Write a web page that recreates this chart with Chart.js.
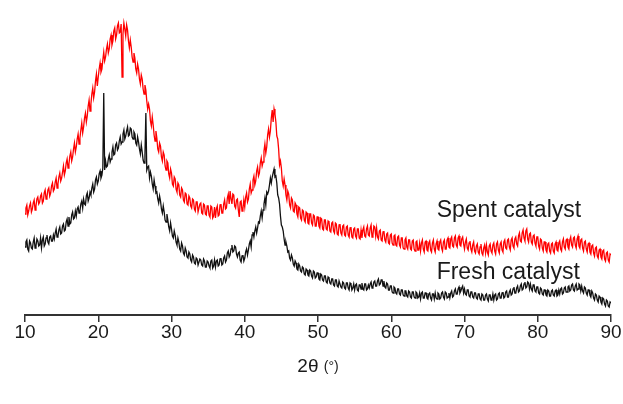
<!DOCTYPE html>
<html>
<head>
<meta charset="utf-8">
<script src="https://cdn.jsdelivr.net/npm/chart.js@4/dist/chart.umd.min.js"></script>
<style>
  html, body { margin: 0; padding: 0; background: #ffffff; }
  #wrap { width: 623px; height: 404px; }
</style>
</head>
<body>
<div id="wrap"><canvas id="xrd" width="623" height="404"></canvas></div>
<script>
// 2θ scan range and step (degrees)
const scanStart = 10;
const scanStep = 0.125;
const xTicks = [10, 20, 30, 40, 50, 60, 70, 80, 90];

// Intensity (a.u.) of the spent catalyst, one row per degree from 10° to 90°
const spentIntensity = [
  101, 107, 110, 100, 104, 109, 112, 103,
  106, 112, 115, 105, 109, 116, 118, 111,
  113, 119, 121, 112, 114, 122, 125, 116,
  118, 125, 127, 119, 122, 129, 132, 124,
  126, 133, 137, 127, 131, 138, 142, 134,
  137, 143, 149, 140, 144, 152, 156, 147,
  151, 159, 163, 154, 158, 166, 172, 163,
  168, 176, 181, 171, 177, 185, 192, 182,
  188, 197, 202, 193, 199, 209, 215, 204,
  211, 221, 227, 217, 223, 234, 241, 229,
  238, 246, 252, 243, 246, 255, 263, 254,
  258, 266, 271, 262, 266, 276, 280, 270,
  274, 284, 287, 276, 280, 289, 292, 282,
  283, 291, 238, 281, 292, 286, 279, 290,
  285, 274, 267, 275, 268, 258, 253, 262,
  257, 246, 242, 251, 246, 236, 231, 240,
  236, 226, 221, 230, 225, 214, 206, 211,
  206, 194, 189, 198, 190, 180, 174, 184,
  177, 166, 163, 172, 169, 158, 154, 163,
  160, 149, 145, 154, 152, 141, 137, 146,
  142, 131, 129, 138, 136, 126, 123, 132,
  130, 120, 118, 127, 125, 115, 113, 122,
  121, 111, 110, 119, 117, 109, 107, 116,
  115, 106, 104, 113, 113, 103, 103, 111,
  112, 102, 101, 111, 110, 101, 100, 109,
  109, 100,  98, 109, 108,  97,  99, 108,
   97, 106, 109,  99, 100, 110, 111, 102,
  102, 111, 115, 106, 107, 117, 121, 111,
  124, 116, 111, 121, 120, 109, 107, 115,
  116, 105,  98, 113, 114, 104, 106, 115,
  108, 118, 122, 113, 116, 126, 131, 122,
  125, 135, 139, 130, 134, 144, 148, 139,
  142, 152, 157, 149, 153, 164, 171, 162,
  168, 180, 186, 178, 184, 197, 205, 193,
  206, 201, 193, 179, 176, 166, 150, 154,
  147, 134, 129, 136, 130, 120, 115, 124,
  121, 110, 107, 117, 115, 104, 103, 112,
  110, 101,  98, 108, 107,  97,  95, 105,
  104,  95,  93, 103, 102,  92,  91, 101,
  101,  92,  90, 100,  99,  89,  89,  98,
   98,  89,  87,  97,  96,  86,  85,  95,
   95,  86,  85,  94,  93,  84,  83,  92,
   93,  84,  82,  92,  91,  81,  80,  90,
   91,  82,  80,  89,  90,  80,  79,  88,
   89,  80,  78,  87,  88,  78,  77,  86,
   87,  79,  77,  86,  86,  77,  76,  85,
   77,  85,  88,  79,  78,  86,  89,  80,
   79,  87,  90,  78,  80,  89,  88,  79,
   87,  78,  76,  84,  85,  75,  74,  83,
   84,  75,  73,  81,  82,  72,  71,  80,
   81,  72,  70,  79,  80,  70,  69,  78,
   79,  70,  68,  77,  77,  67,  66,  75,
   77,  68,  66,  75,  75,  66,  65,  74,
   75,  66,  64,  73,  74,  65,  65,  72,
   64,  72,  75,  66,  63,  73,  74,  65,
   64,  72,  74,  65,  63,  72,  75,  66,
   63,  71,  74,  66,  65,  73,  75,  67,
   64,  73,  75,  66,  66,  75,  77,  68,
   67,  76,  78,  69,  68,  77,  79,  70,
   68,  77,  79,  70,  69,  76,  78,  71,
   66,  73,  76,  67,  65,  72,  74,  66,
   63,  70,  73,  64,  62,  69,  71,  63,
   61,  68,  71,  62,  60,  67,  70,  62,
   70,  63,  60,  69,  71,  64,  62,  70,
   72,  64,  61,  71,  73,  65,  62,  71,
   73,  65,  63,  73,  75,  67,  66,  75,
   76,  68,  65,  75,  77,  69,  67,  76,
   78,  71,  69,  79,  82,  74,  73,  82,
   85,  77,  74,  84,  86,  76,  73,  81,
   82,  73,  71,  79,  80,  72,  69,  78,
   78,  69,  66,  76,  75,  67,  64,  73,
   73,  65,  63,  71,  72,  64,  62,  71,
   72,  64,  62,  71,  73,  65,  64,  72,
   74,  66,  64,  73,  76,  68,  66,  75,
   76,  68,  66,  75,  78,  70,  68,  77,
   78,  70,  67,  76,  79,  69,  67,  75,
   76,  67,  64,  73,  74,  66,  63,  71,
   72,  63,  61,  69,  70,  62,  59,  67,
   68,  59,  57,  65,  66,  58,  56,  64,
   65,  56,  54,  62,  63,  55,  53,  61,
   60
];

// Intensity (a.u.) of the fresh catalyst, same 2θ grid
const freshIntensity = [
   68,  73,  75,  66,  64,  74,  72,  67,
   66,  73,  77,  67,  69,  76,  74,  69,
   70,  77,  67,  75,  78,  69,  71,  77,
   80,  73,  71,  78,  79,  74,  74,  80,
   76,  82,  86,  78,  79,  85,  88,  81,
   82,  89,  91,  84,  85,  93,  96,  89,
   98,  91,  92, 100, 103,  96,  97, 104,
   99, 106, 108, 102, 104, 111, 114, 107,
  116, 111, 110, 119, 122, 114, 117, 123,
  120, 127, 131, 123, 126, 135, 138, 131,
  134, 141, 144, 137, 140, 147, 222, 145,
  154, 148, 149, 156, 160, 153, 156, 163,
  168, 160, 161, 170, 172, 165, 167, 174,
  178, 171, 173, 181, 185, 176, 179, 184,
  188, 179, 180, 187, 186, 178, 176, 183,
  181, 172, 170, 178, 173, 166, 161, 170,
  163, 155, 152, 160, 202, 145, 148, 149,
  137, 143, 139, 131, 126, 135, 129, 122,
  123, 116, 112, 119, 114, 106, 102, 109,
  103,  95,  93, 101,  95,  88,  84,  92,
   86,  79,  77,  84,  80,  73,  70,  77,
   73,  66,  64,  72,  69,  62,  60,  67,
   64,  58,  57,  63,  61,  55,  53,  60,
   58,  52,  51,  57,  56,  50,  50,  56,
   55,  50,  49,  56,  54,  48,  48,  54,
   53,  49,  47,  54,  55,  47,  49,  55,
   48,  54,  55,  49,  50,  56,  57,  50,
   51,  57,  59,  53,  55,  62,  64,  58,
   60,  66,  70,  63,  64,  69,  68,  61,
   58,  62,  63,  55,  53,  59,  60,  54,
   57,  63,  66,  60,  65,  71,  74,  68,
   80,  83,  78,  84,  88,  82,  87,  93,
   92,  99, 104,  97, 105, 111, 117, 110,
  123, 121, 124, 130, 137, 132, 138, 142,
  146, 138, 139, 132, 120, 117, 111,  99,
   90,  88,  84,  76,  70,  73,  69,  63,
   64,  57,  55,  60,  57,  51,  49,  54,
   52,  46,  45,  51,  49,  44,  43,  48,
   47,  41,  40,  46,  45,  40,  39,  45,
   44,  39,  37,  44,  43,  37,  38,  42,
   42,  36,  35,  41,  40,  35,  34,  39,
   39,  33,  32,  38,  37,  32,  31,  36,
   36,  30,  29,  35,  35,  29,  28,  34,
   34,  28,  27,  33,  32,  27,  26,  32,
   32,  27,  25,  32,  31,  25,  27,  31,
   25,  30,  31,  25,  24,  30,  30,  26,
   32,  26,  25,  31,  31,  25,  26,  30,
   27,  31,  33,  27,  28,  33,  34,  29,
   29,  34,  36,  30,  31,  35,  35,  29,
   34,  28,  27,  32,  31,  25,  25,  29,
   29,  23,  22,  28,  27,  22,  21,  26,
   26,  21,  20,  25,  25,  20,  19,  24,
   24,  19,  18,  24,  23,  18,  17,  23,
   23,  18,  17,  23,  22,  17,  18,  22,
   16,  22,  23,  17,  17,  22,  22,  17,
   16,  21,  22,  17,  15,  21,  21,  16,
   22,  17,  16,  22,  21,  16,  17,  22,
   23,  18,  16,  23,  22,  17,  18,  22,
   17,  22,  24,  18,  19,  24,  26,  21,
   21,  26,  28,  22,  24,  27,  29,  22,
   26,  21,  20,  25,  25,  19,  18,  23,
   23,  18,  17,  22,  22,  17,  16,  21,
   21,  16,  15,  21,  20,  15,  15,  20,
   21,  16,  14,  20,  20,  15,  16,  21,
   15,  20,  21,  15,  16,  21,  22,  17,
   17,  22,  23,  17,  18,  23,  24,  18,
   18,  23,  25,  20,  21,  26,  28,  22,
   22,  27,  29,  23,  24,  29,  31,  25,
   26,  31,  33,  27,  28,  33,  32,  26,
   31,  26,  24,  30,  30,  24,  23,  28,
   28,  22,  21,  27,  26,  21,  20,  25,
   25,  20,  19,  25,  24,  19,  19,  24,
   25,  20,  19,  24,  25,  19,  20,  25,
   21,  26,  27,  21,  22,  27,  28,  23,
   23,  28,  29,  24,  25,  30,  31,  25,
   24,  29,  31,  25,  26,  31,  30,  24,
   29,  24,  22,  28,  27,  22,  20,  25,
   25,  20,  18,  24,  22,  17,  15,  21,
   20,  15,  13,  19,  18,  13,  11,  17,
   16,  11,   9,  15,  14,   9,   8,  13,
   12
];

const seriesNames = ['Spent catalyst', 'Fresh catalyst'];

// pair each intensity with its 2θ position on the scan grid
function toPoints(values) {
  return values.map((v, i) => ({ x: scanStart + i * scanStep, y: v }));
}

// curve labels placed beside the traces, and the two-size axis title
const textLayer = {
  id: 'textLayer',
  afterDraw(chart) {
    const ctx = chart.ctx;
    const xs = chart.scales.x;
    const ys = chart.scales.y;
    ctx.save();
    ctx.fillStyle = '#1a1a1a';
    ctx.textBaseline = 'alphabetic';
    ctx.textAlign = 'left';
    ctx.font = '23px "Liberation Sans", Arial, sans-serif';
    const left = xs.getPixelForValue(66.2);
    ctx.fillText(seriesNames[0], left, ys.getPixelForValue(98));
    ctx.fillText(seriesNames[1], left, ys.getPixelForValue(36));

    // axis title: "2θ" followed by a smaller "(°)"
    const big = '19px "Liberation Sans", Arial, sans-serif';
    const small = '14px "Liberation Sans", Arial, sans-serif';
    ctx.font = big;
    const w1 = ctx.measureText('2θ ').width;
    ctx.font = small;
    const w2 = ctx.measureText('(°)').width;
    const cx = xs.getPixelForValue(50);
    const base = chart.chartArea.bottom + 57;
    const x0 = cx - (w1 + w2) / 2;
    ctx.font = big;
    ctx.fillText('2θ ', x0, base);
    ctx.font = small;
    ctx.fillText('(°)', x0 + w1, base - 1);
    ctx.restore();
  }
};

new Chart(document.getElementById('xrd'), {
  type: 'line',
  data: {
    datasets: [
      {
        label: seriesNames[0],
        data: toPoints(spentIntensity),
        borderColor: '#ff0000',
        borderWidth: 1.3,
        pointRadius: 0,
        tension: 0
      },
      {
        label: seriesNames[1],
        data: toPoints(freshIntensity),
        borderColor: '#111111',
        borderWidth: 1.3,
        pointRadius: 0,
        tension: 0
      }
    ]
  },
  options: {
    responsive: false,
    animation: false,
    layout: { padding: { left: 25, right: 12, top: 0, bottom: 59 } },
    plugins: {
      legend: { display: false },
      tooltip: { enabled: false }
    },
    scales: {
      x: {
        type: 'linear',
        min: 10,
        max: 90,
        afterBuildTicks(scale) {
          scale.ticks = xTicks.map(v => ({ value: v }));
        },
        afterFit(scale) {
          scale.height = 30;
        },
        grid: {
          display: true,
          drawOnChartArea: false,
          drawTicks: true,
          tickLength: 7,
          color: '#333333',
          lineWidth: 1.5
        },
        border: { display: true, color: '#333333', width: 2 },
        ticks: {
          padding: -1,
          maxRotation: 0,
          color: '#1a1a1a',
          font: { family: '"Liberation Sans", Arial, sans-serif', size: 19 }
        }
      },
      y: {
        display: false,
        min: 0,
        max: 315
      }
    }
  },
  plugins: [textLayer]
});
</script>
</body>
</html>
